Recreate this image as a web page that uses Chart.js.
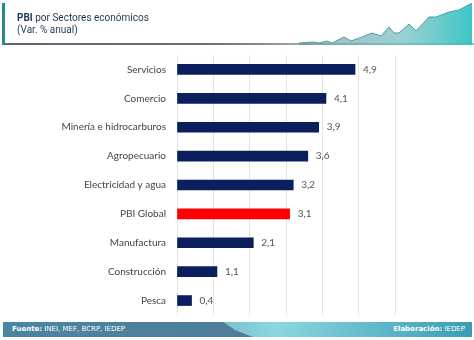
<!DOCTYPE html>
<html lang="es">
<head>
  <meta charset="UTF-8">
  <title>PBI por Sectores económicos</title>
  <script src="https://cdn.jsdelivr.net/npm/chart.js"></script>
  <style>
    body {
      margin: 0;
      background: #ffffff;
      width: 474px;
      height: 340px;
      position: relative;
      overflow: hidden;
      font-family: 'Lato', sans-serif;
    }

    #chart {
      position: absolute;
      left: 0;
      top: 0;
    }

    .header {
      position: absolute;
      left: 2px;
      top: 3px;
      width: 472px;
      height: 42px;
    }

    .header .accent {
      position: absolute;
      left: 0;
      top: 0;
      width: 3px;
      height: 42px;
      background: #2a8595;
    }

    .header .line {
      position: absolute;
      left: 3px;
      top: 40px;
      width: 469px;
      height: 2px;
      background: linear-gradient(to right, #5e6770, #7a6a6c 45%, #9fc3c6 70%, #6fd0d2);
    }

    .header h1 {
      position: absolute;
      left: 15px;
      top: 9px;
      margin: 0;
      font-family: 'Roboto', sans-serif;
      font-size: 10px;
      font-weight: 400;
      line-height: 12px;
      color: #1d3756;
    }

    .header h1 b { font-weight: 700; }

    .header svg {
      position: absolute;
      right: 0;
      top: 0;
    }

    .footer {
      position: absolute;
      left: 3px;
      top: 322px;
      width: 469px;
      height: 15px;
      background: linear-gradient(to right, #3d86a2, #66a8bf 30%, #7fc6d3 50%, #8ad7df 58%, #3a9cb4);
      font-family: 'DejaVu Sans', sans-serif;
      font-size: 7px;
      color: #ffffff;
      line-height: 15px;
    }

    .footer .dark {
      position: absolute;
      left: 0;
      top: 0;
      width: 250px;
      height: 15px;
      background: linear-gradient(to right, #4a86a0, #4f7d98);
      clip-path: polygon(0 0, 220px 0, 232px 8px, 250px 15px, 0 15px);
    }

    .footer span {
      position: absolute;
      top: 0;
    }
  </style>
</head>
<body>

<canvas id="chart" width="474" height="340"></canvas>

<div class="header">
  <div class="accent"></div>
  <div class="line"></div>
  <h1><b>PBI</b> por Sectores económicos<br>(Var. % anual)</h1>
  <svg width="175" height="44" viewBox="300 0 175 44">
    <defs>
      <linearGradient id="wave" x1="0" y1="0" x2="1" y2="0">
        <stop offset="0" stop-color="#6e8f98" stop-opacity="0.6"/>
        <stop offset="0.6" stop-color="#6fbcc0" stop-opacity="0.7"/>
        <stop offset="1" stop-color="#31c3c3" stop-opacity="0.95"/>
      </linearGradient>
    </defs>
    <!-- decoración del encabezado -->
    <polygon fill="url(#wave)"
      points="300,40 315,39 320,40 328,38 333,40 345,34 352,38 363,34 373,30 382,33 390,24 395,30 400,30 410,21 417,28 430,14 437,14 450,9 460,7 473,0 473,42 300,42"/>
    <polyline fill="none" stroke="#4f9ea6" stroke-width="1"
      points="300,40 315,39 320,40 328,38 333,40 345,34 352,38 363,34 373,30 382,33 390,24 395,30 400,30 410,21 417,28 430,14 437,14 450,9 460,7 473,0"/>
  </svg>
</div>

<div class="footer">
  <div class="dark"></div>
  <span style="left:9px"><b>Fuente:</b> INEI, MEF, BCRP, IEDEP</span>
  <span style="right:7px"><b>Elaboración:</b> IEDEP</span>
</div>

<script>
  // Sectores y variación % anual
  const sectores = [
    'Servicios',
    'Comercio',
    'Minería e hidrocarburos',
    'Agropecuario',
    'Electricidad y agua',
    'PBI Global',
    'Manufactura',
    'Construcción',
    'Pesca'
  ];
  const variacion = [4.9, 4.1, 3.9, 3.6, 3.2, 3.1, 2.1, 1.1, 0.4];
  const colores = sectores.map(s => s === 'PBI Global' ? '#ff0000' : '#0b1f5e');

  // etiquetas de valor al final de cada barra
  const etiquetas = {
    id: 'etiquetas',
    afterDatasetsDraw(chart) {
      const { ctx } = chart;
      const meta = chart.getDatasetMeta(0);
      ctx.save();
      ctx.font = '10px Lato';
      ctx.fillStyle = '#555555';
      ctx.textBaseline = 'middle';
      meta.data.forEach((bar, i) => {
        const txt = variacion[i].toFixed(1).replace('.', ',');
        ctx.fillText(txt, bar.x + 8, bar.y);
      });
      ctx.restore();
    }
  };

  new Chart(document.getElementById('chart'), {
    type: 'bar',
    data: {
      labels: sectores,
      datasets: [{
        data: variacion,
        backgroundColor: colores,
        barThickness: 10
      }]
    },
    options: {
      indexAxis: 'y',
      responsive: false,
      animation: false,
      layout: { padding: { left: 0, right: 79, top: 55, bottom: 25 } },
      plugins: {
        legend: { display: false },
        tooltip: { enabled: false }
      },
      scales: {
        x: {
          min: 0,
          max: 6,
          ticks: { display: false, stepSize: 1 },
          grid: { color: '#e3e3e3', drawTicks: false },
          border: { display: false },
          afterFit: axis => { axis.height = 0; }
        },
        y: {
          grid: { display: false, drawTicks: false },
          border: { display: false },
          ticks: {
            color: '#444444',
            padding: 11,
            font: { family: 'Lato', size: 10 }
          },
          afterFit: axis => { axis.width = 177; }
        }
      }
    },
    plugins: [etiquetas]
  });
</script>

</body>
</html>
